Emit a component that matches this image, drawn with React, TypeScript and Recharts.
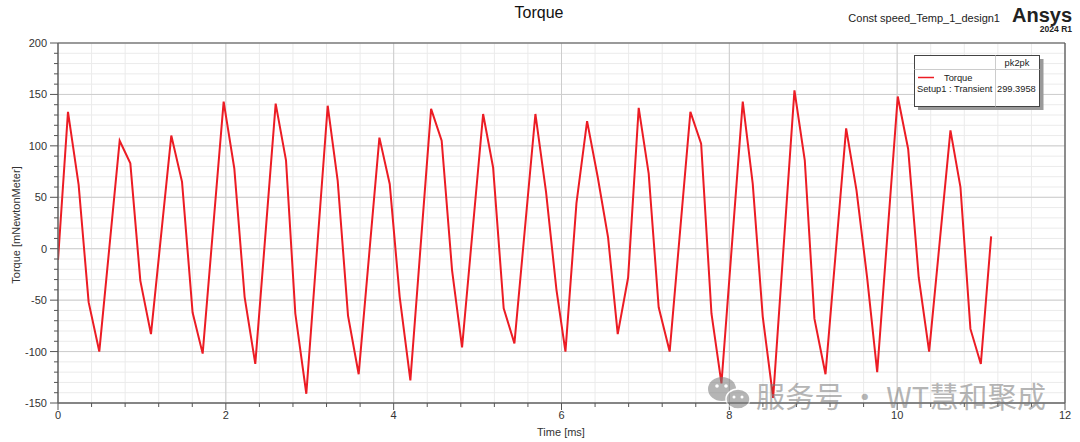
import React from 'react';
import { LineChart, Line, XAxis, YAxis, CartesianGrid } from 'recharts';

const timeMs = [
  0, 0.119, 0.246, 0.365, 0.492, 0.735, 0.862, 0.981, 1.108, 1.35, 1.478, 1.604, 1.724,
  1.974, 2.101, 2.224, 2.351, 2.594, 2.717, 2.828, 2.959, 3.214, 3.333, 3.456, 3.583,
  3.83, 3.953, 4.072, 4.199, 4.446, 4.572, 4.696, 4.815, 5.066, 5.185, 5.311, 5.439,
  5.689, 5.816, 5.94, 6.047, 6.178, 6.305, 6.431, 6.555, 6.67, 6.794, 6.92, 7.039, 7.158,
  7.289, 7.536, 7.664, 7.787, 7.906, 8.16, 8.279, 8.398, 8.522, 8.776, 8.899, 9.014,
  9.146, 9.392, 9.515, 9.642, 9.762, 10.007, 10.131, 10.257, 10.381, 10.635, 10.754,
  10.873, 10.997, 11.12,
];
const torque = [
  -11, 133, 62, -52, -100, 105, 83, -31, -83, 110, 65, -62, -102,
  143, 78, -47, -112, 141, 86, -63, -141, 139, 66, -65, -122,
  108, 63, -47, -128, 136, 105, -21, -96, 131, 79, -58, -92,
  131, 55, -40, -100, 44, 124, 70, 11, -83, -28, 137, 73, -57,
  -100, 133, 102, -63, -131, 143, 63, -66, -145, 154, 86, -68,
  -122, 117, 57, -28, -120, 148, 97, -28, -100, 115, 60,
  -78, -112, 12,
];
const xMajorTicks = [0, 2, 4, 6, 8, 10, 12];
const yMajorTicks = [-150, -100, -50, 0, 50, 100, 150, 200];
const xMinorTicks = Array.from({ length: 31 }, (_, i) => Math.round(i * 4) / 10);
const yMinorTicks = Array.from({ length: 36 }, (_, i) => -150 + i * 10);

const seriesName = 'Torque';
const setupName = 'Setup1 : Transient';
const pk2pkLabel = 'pk2pk';
const pk2pkValue = '299.3958';

const data = timeMs.map((t, i) => ({ t, torque: torque[i] }));

const FONT = '"Liberation Sans", Arial, sans-serif';

const isMajorX = (v: number) => Math.abs(v / 2 - Math.round(v / 2)) < 1e-6;
const isMajorY = (v: number) => Math.abs(v / 50 - Math.round(v / 50)) < 1e-6;

const XTick = (props: any) => {
  const { x, y, payload } = props;
  const v = payload.value;
  const major = isMajorX(v);
  return (
    <g>
      <line x1={x} x2={x} y1={y} y2={y + (major ? 7 : 4)} stroke="#555" strokeWidth={1} />
      {major && (
        <text x={x} y={y + 16} textAnchor="middle" fontSize={11} fill="#333" fontFamily={FONT}>
          {v}
        </text>
      )}
    </g>
  );
};

const YTick = (props: any) => {
  const { x, y, payload } = props;
  const v = payload.value;
  const major = isMajorY(v);
  return (
    <g>
      <line x1={x - (major ? 8 : 4)} x2={x} y1={y} y2={y} stroke="#555" strokeWidth={1} />
      {major && (
        <text x={x - 11} y={y + 4} textAnchor="end" fontSize={11} fill="#333" fontFamily={FONT}>
          {v}
        </text>
      )}
    </g>
  );
};

export default function App() {
  return (
    <div style={{ position: 'absolute', left: 0, top: 0, width: 1080, height: 442, background: '#fff' }}>
      <LineChart width={1080} height={442} data={data} margin={{ top: 43, right: 15, left: 0, bottom: 0 }}>
        <CartesianGrid horizontalValues={yMinorTicks} verticalValues={xMinorTicks} stroke="#ebebeb" strokeWidth={1} />
        <CartesianGrid horizontalValues={yMajorTicks} verticalValues={xMajorTicks} stroke="#cdcdcd" strokeWidth={1} />
        <CartesianGrid horizontalValues={[200]} verticalValues={[12]} stroke="#555" strokeWidth={1.2} />
        <XAxis
          type="number"
          dataKey="t"
          domain={[0, 12]}
          ticks={xMinorTicks}
          interval={0}
          tick={<XTick />}
          tickLine={false}
          tickSize={0}
          tickMargin={0}
          axisLine={{ stroke: '#666', strokeWidth: 1.5 }}
          height={39}
          allowDataOverflow
        />
        <YAxis
          type="number"
          domain={[-150, 200]}
          ticks={yMinorTicks}
          interval={0}
          tick={<YTick />}
          tickLine={false}
          tickSize={0}
          tickMargin={0}
          axisLine={{ stroke: '#666', strokeWidth: 1.5 }}
          width={58}
          allowDataOverflow
        />
        <Line
          type="linear"
          dataKey="torque"
          stroke="#ec1c24"
          strokeWidth={2}
          dot={false}
          activeDot={false}
          isAnimationActive={false}
        />
      </LineChart>
      <svg
        width={1080}
        height={442}
        style={{ position: 'absolute', left: 0, top: 0, pointerEvents: 'none' }}
      >
        <text x={539} y={18} textAnchor="middle" fontSize={16} fill="#111" fontFamily={FONT}>
          Torque
        </text>
        <text x={1000} y={22} textAnchor="end" fontSize={11} fill="#222" fontFamily={FONT}>
          Const speed_Temp_1_design1
        </text>
        <text x={1072} y={22} textAnchor="end" fontSize={20} fontWeight="bold" fill="#222" fontFamily={FONT}>
          Ansys
        </text>
        <text x={1072} y={32} textAnchor="end" fontSize={8.5} fontWeight="bold" fill="#222" fontFamily={FONT}>
          2024 R1
        </text>
        <text
          transform="translate(20,225) rotate(-90)"
          textAnchor="middle"
          fontSize={11}
          fill="#333"
          fontFamily={FONT}
        >
          Torque [mNewtonMeter]
        </text>
        <text x={561} y={436} textAnchor="middle" fontSize={11} fill="#333" fontFamily={FONT}>
          Time [ms]
        </text>

        {/* legend */}
        <rect x={918} y={59} width={125.5} height={51} fill="#9a9a9a" />
        <rect x={914.5} y={55.5} width={125} height={51} fill="#fff" stroke="#444" strokeWidth={1} />
        <line x1={914.5} x2={1039.5} y1={69.5} y2={69.5} stroke="#ccc" />
        <line x1={995.5} x2={995.5} y1={55.5} y2={106.5} stroke="#ccc" />
        <text x={1017} y={66} textAnchor="middle" fontSize={9.3} fill="#222" fontFamily={FONT}>
          {pk2pkLabel}
        </text>
        <line x1={918} x2={934} y1={77.5} y2={77.5} stroke="#ec1c24" strokeWidth={1.5} />
        <text x={944} y={81} fontSize={9.3} fill="#222" fontFamily={FONT}>
          {seriesName}
        </text>
        <text x={917} y={92} fontSize={9.3} fill="#222" fontFamily={FONT}>
          {setupName}
        </text>
        <text x={997} y={92} fontSize={9.3} fill="#222" fontFamily={FONT}>
          {pk2pkValue}
        </text>

        {/* watermark */}
        <g opacity={0.55} fill="#7a7a7a">
          <ellipse cx={722} cy={389} rx={14} ry={12} />
          <ellipse cx={738} cy={399} rx={12} ry={10} stroke="#fff" strokeWidth={1.5} />
          <circle cx={717} cy={386} r={1.8} fill="#fff" />
          <circle cx={726} cy={386} r={1.8} fill="#fff" />
          <circle cx={734} cy={397} r={1.5} fill="#fff" />
          <circle cx={742} cy={397} r={1.5} fill="#fff" />
          <text
            x={756}
            y={408}
            fontSize={29}
            fontFamily='"Noto Sans CJK SC", sans-serif'
            textLength={290}
            lengthAdjust="spacing"
          >
            服务号 · WT慧和聚成
          </text>
        </g>
      </svg>
    </div>
  );
}
